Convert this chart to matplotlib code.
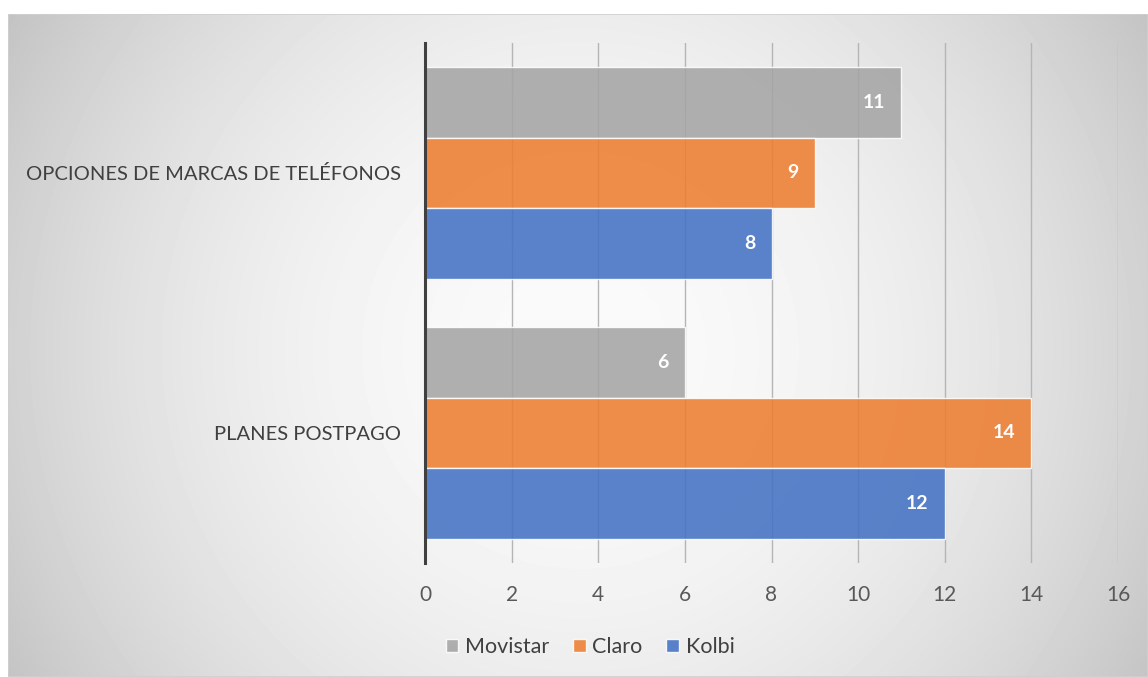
import numpy as np
import matplotlib.pyplot as plt
from matplotlib.patches import Patch, Rectangle

# data
categories = ['PLANES POSTPAGO', 'OPCIONES DE MARCAS DE TELÉFONOS']
series = ['Movistar', 'Claro', 'Kolbi']
movistar = [6, 11]
claro = [14, 9]
kolbi = [12, 8]
x_ticks = [0, 2, 4, 6, 8, 10, 12, 14, 16]

colors = ['#a5a5a5', '#ed7d31', '#4472c4']
txt = '#404040'
plt.rcParams['font.family'] = ['Lato', 'DejaVu Sans']

W, H = 1148, 677
fig = plt.figure(figsize=(W / 100, H / 100), dpi=100)
fig.patch.set_facecolor('white')

# background of the chart area: radial gradient
bg = fig.add_axes([8 / W, 0, (W - 8) / W, (H - 14) / H])
bg.set_axis_off()
yy, xx = np.mgrid[14:H, 8:W]
d = np.sqrt((xx - 580.0) ** 2 + (yy - 350.0) ** 2)
val = (250 - 45 * (d / 600.0) ** 2) / 255.0
val = np.clip(val, 0, 1)
bg.imshow(val, cmap='gray', vmin=0, vmax=1, aspect='auto', interpolation='bilinear')
bg.add_patch(Rectangle((0, 0), 1, 1, transform=bg.transAxes, fill=False,
                       edgecolor='#d0d0d0', lw=1.2))

ax = fig.add_axes([425 / W, (H - 563) / H, (1118 - 425) / W, 520 / H])
ax.patch.set_alpha(0)

y = np.arange(len(categories))
h = 0.273
vals = [movistar, claro, kolbi]
offs = [h, 0, -h]
for i in range(3):
    bars = ax.barh(y + offs[i], vals[i], height=h, color=colors[i], alpha=0.88,
                   edgecolor=(1, 1, 1, 0.5), linewidth=1, zorder=3)
    for b, v in zip(bars, vals[i]):
        ax.annotate(str(v), (v, b.get_y() + h / 2), xytext=(-16, 0),
                    textcoords='offset pixels', ha='right', va='center',
                    color='white', fontsize=14, fontweight='bold', zorder=4)

ax.set_xlim(0, 16)
ax.set_ylim(-0.5, 1.5)
ax.set_xticks(x_ticks)
ax.set_yticks(y)
ax.set_yticklabels(categories)
ax.grid(axis='x', color='#b5b5b5', lw=1, zorder=1)
ax.set_axisbelow(True)
ax.tick_params(axis='both', length=0, colors=txt)
ax.tick_params(axis='x', pad=16, labelsize=15, labelcolor='#595959')
ax.tick_params(axis='y', pad=17, labelsize=14.5)
for s in ['top', 'right', 'bottom']:
    ax.spines[s].set_visible(False)
ax.spines['left'].set_color('#404040')
ax.spines['left'].set_linewidth(2.2)
ax.spines['left'].set_zorder(5)

handles = [Patch(facecolor=c, edgecolor=(1, 1, 1, 0.6), alpha=0.88) for c in colors]
fig.legend(handles, series, loc='center', bbox_to_anchor=(590 / W, 1 - 647 / H),
           ncol=3, frameon=False, fontsize=15.5, handlelength=0.6, handleheight=0.6,
           handletextpad=0.3, columnspacing=1.1, labelcolor=txt)

fig.savefig('out.png', dpi=100)
